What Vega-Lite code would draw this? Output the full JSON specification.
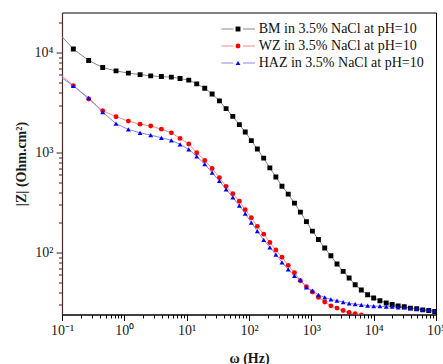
{
  "$schema": "https://vega.github.io/schema/vega-lite/v6.json",
  "width": 374,
  "height": 302,
  "autosize": {"type": "none"},
  "padding": {"left": 62, "top": 12.5, "right": 7, "bottom": 49.5},
  "background": "white",
  "config": {
    "view": {"stroke": "black", "strokeWidth": 1},
    "font": "Liberation Serif"
  },
  "datasets": {
    "eis": [
      {"s":"BM","f":0.1,"z":14500},{"s":"BM","f":0.152,"z":10900},{"s":"BM","f":0.268,"z":8380},{"s":"BM","f":0.45,"z":7110},{"s":"BM","f":0.736,"z":6590},
      {"s":"BM","f":1.16,"z":6250},{"s":"BM","f":1.79,"z":6050},{"s":"BM","f":2.65,"z":5870},{"s":"BM","f":3.93,"z":5780},{"s":"BM","f":5.68,"z":5700},
      {"s":"BM","f":7.83,"z":5520},{"s":"BM","f":10.8,"z":5320},{"s":"BM","f":14.5,"z":4880},{"s":"BM","f":19.5,"z":4420},{"s":"BM","f":25.6,"z":3870},
      {"s":"BM","f":33.5,"z":3300},{"s":"BM","f":42.9,"z":2760},{"s":"BM","f":55,"z":2310},{"s":"BM","f":70,"z":1910},{"s":"BM","f":87,"z":1610},
      {"s":"BM","f":109,"z":1320},{"s":"BM","f":136,"z":1090},{"s":"BM","f":172,"z":881},{"s":"BM","f":216,"z":704},{"s":"BM","f":270,"z":571},
      {"s":"BM","f":338,"z":461},{"s":"BM","f":426,"z":385},{"s":"BM","f":536,"z":313},{"s":"BM","f":667,"z":254},{"s":"BM","f":834,"z":204},
      {"s":"BM","f":1040,"z":164},{"s":"BM","f":1300,"z":135},{"s":"BM","f":1640,"z":111},{"s":"BM","f":2060,"z":92.8},{"s":"BM","f":2580,"z":76.9},
      {"s":"BM","f":3240,"z":64.9},{"s":"BM","f":4040,"z":55.7},{"s":"BM","f":5050,"z":47.7},{"s":"BM","f":6330,"z":42.2},{"s":"BM","f":8000,"z":37.8},
      {"s":"BM","f":10000,"z":35.1},{"s":"BM","f":12600,"z":33},{"s":"BM","f":15900,"z":31.3},{"s":"BM","f":19800,"z":30.2},{"s":"BM","f":24700,"z":29.3},
      {"s":"BM","f":31000,"z":28.7},{"s":"BM","f":38800,"z":27.8},{"s":"BM","f":49000,"z":27.4},{"s":"BM","f":61200,"z":26.7},{"s":"BM","f":76500,"z":26.3},
      {"s":"BM","f":95500,"z":25.7},

      {"s":"WZ","f":0.1,"z":5880},{"s":"WZ","f":0.152,"z":4690},{"s":"WZ","f":0.268,"z":3450},{"s":"WZ","f":0.45,"z":2630},{"s":"WZ","f":0.736,"z":2290},
      {"s":"WZ","f":1.16,"z":2070},{"s":"WZ","f":1.79,"z":1930},{"s":"WZ","f":2.65,"z":1850},{"s":"WZ","f":3.93,"z":1720},{"s":"WZ","f":5.68,"z":1580},
      {"s":"WZ","f":7.83,"z":1390},{"s":"WZ","f":10.8,"z":1220},{"s":"WZ","f":14.5,"z":1000},{"s":"WZ","f":19.5,"z":836},{"s":"WZ","f":25.6,"z":694},
      {"s":"WZ","f":33.5,"z":563},{"s":"WZ","f":42.9,"z":460},{"s":"WZ","f":55,"z":389},{"s":"WZ","f":70,"z":326},{"s":"WZ","f":87,"z":269},
      {"s":"WZ","f":109,"z":223},{"s":"WZ","f":136,"z":183},{"s":"WZ","f":172,"z":153},{"s":"WZ","f":216,"z":126},{"s":"WZ","f":270,"z":106},
      {"s":"WZ","f":338,"z":89.8},{"s":"WZ","f":426,"z":74.5},{"s":"WZ","f":536,"z":62.9},{"s":"WZ","f":667,"z":52.3},{"s":"WZ","f":834,"z":45.5},
      {"s":"WZ","f":1040,"z":40.3},{"s":"WZ","f":1300,"z":35.6},{"s":"WZ","f":1640,"z":32},{"s":"WZ","f":2060,"z":29.3},{"s":"WZ","f":2580,"z":27.8},
      {"s":"WZ","f":3240,"z":26.3},{"s":"WZ","f":4040,"z":25.1},{"s":"WZ","f":5050,"z":24.4},{"s":"WZ","f":6330,"z":23.7},{"s":"WZ","f":8000,"z":22.8},
      {"s":"WZ","f":10000,"z":22.0},

      {"s":"HAZ","f":0.1,"z":5610},{"s":"HAZ","f":0.152,"z":4660},{"s":"HAZ","f":0.268,"z":3530},{"s":"HAZ","f":0.45,"z":2540},{"s":"HAZ","f":0.736,"z":1950},
      {"s":"HAZ","f":1.16,"z":1710},{"s":"HAZ","f":1.79,"z":1580},{"s":"HAZ","f":2.65,"z":1500},{"s":"HAZ","f":3.93,"z":1410},{"s":"HAZ","f":5.68,"z":1330},
      {"s":"HAZ","f":7.83,"z":1210},{"s":"HAZ","f":10.8,"z":1080},{"s":"HAZ","f":14.5,"z":916},{"s":"HAZ","f":19.5,"z":766},{"s":"HAZ","f":25.6,"z":630},
      {"s":"HAZ","f":33.5,"z":521},{"s":"HAZ","f":42.9,"z":430},{"s":"HAZ","f":55,"z":357},{"s":"HAZ","f":70,"z":295},{"s":"HAZ","f":87,"z":245},
      {"s":"HAZ","f":109,"z":200},{"s":"HAZ","f":136,"z":164},{"s":"HAZ","f":172,"z":134},{"s":"HAZ","f":216,"z":113},{"s":"HAZ","f":270,"z":95.5},
      {"s":"HAZ","f":338,"z":79.9},{"s":"HAZ","f":426,"z":67.9},{"s":"HAZ","f":536,"z":58.3},{"s":"HAZ","f":667,"z":53.2},{"s":"HAZ","f":834,"z":44.8},
      {"s":"HAZ","f":1040,"z":41.5},{"s":"HAZ","f":1300,"z":37.8},{"s":"HAZ","f":1640,"z":35.6},{"s":"HAZ","f":2060,"z":34},{"s":"HAZ","f":2580,"z":33},
      {"s":"HAZ","f":3240,"z":32},{"s":"HAZ","f":4040,"z":31},{"s":"HAZ","f":5050,"z":30.5},{"s":"HAZ","f":6330,"z":30},{"s":"HAZ","f":8000,"z":29.5},
      {"s":"HAZ","f":10000,"z":29.1},{"s":"HAZ","f":12600,"z":29.1},{"s":"HAZ","f":15900,"z":28.7},{"s":"HAZ","f":19800,"z":28.7},{"s":"HAZ","f":24700,"z":28.2},
      {"s":"HAZ","f":31000,"z":28.2},{"s":"HAZ","f":38800,"z":27.8},{"s":"HAZ","f":49000,"z":27.4},{"s":"HAZ","f":61200,"z":26.9},{"s":"HAZ","f":76500,"z":26.5},
      {"s":"HAZ","f":95500,"z":26.1}
    ]
  },
  "data": {"name": "eis"},
  "encoding": {
    "x": {
      "field": "f", "type": "quantitative",
      "scale": {"type": "log", "domain": [0.1, 100000], "nice": false},
      "axis": {
        "orient": "bottom",
        "values": [0.1,0.2,0.3,0.4,0.5,0.6,0.7,0.8,0.9,1,2,3,4,5,6,7,8,9,10,20,30,40,50,60,70,80,90,100,200,300,400,500,600,700,800,900,1000,2000,3000,4000,5000,6000,7000,8000,9000,10000,20000,30000,40000,50000,60000,70000,80000,90000,100000],
        "labelExpr": "abs(log(datum.value)/LN10 - round(log(datum.value)/LN10)) < 0.001 ? '10' + ['⁻¹','⁰','¹','²','³','⁴','⁵'][round(log(datum.value)/LN10)+1] : ''",
        "tickSize": {"condition": {"test": "abs(log(datum.value)/LN10 - round(log(datum.value)/LN10)) < 0.001", "value": 6}, "value": 3.5},
        "tickColor": "black", "tickWidth": 1,
        "domainColor": "black", "domainWidth": 1.2,
        "grid": false, "labelOverlap": false, "labelFlush": false,
        "labelFont": "Liberation Serif", "labelFontSize": 14, "labelColor": "#1a1a1a", "labelPadding": 3,
        "title": "ω (Hz)", "titleFont": "Liberation Serif", "titleFontSize": 14, "titleFontWeight": "bold", "titleColor": "#1a1a1a", "titlePadding": 14
      }
    },
    "y": {
      "field": "z", "type": "quantitative",
      "scale": {"type": "log", "domain": [24, 25300], "nice": false},
      "axis": {
        "orient": "left",
        "values": [30,40,50,60,70,80,90,100,200,300,400,500,600,700,800,900,1000,2000,3000,4000,5000,6000,7000,8000,9000,10000,20000],
        "labelExpr": "abs(log(datum.value)/LN10 - round(log(datum.value)/LN10)) < 0.001 ? '10' + ['⁰','¹','²','³','⁴','⁵'][round(log(datum.value)/LN10)] : ''",
        "tickSize": {"condition": {"test": "abs(log(datum.value)/LN10 - round(log(datum.value)/LN10)) < 0.001", "value": 6}, "value": 3.5},
        "tickColor": "#3a2222", "tickWidth": 1,
        "domainColor": "#4a2a2a", "domainWidth": 1.2,
        "grid": false, "labelOverlap": false, "labelFlush": false,
        "labelFont": "Liberation Serif", "labelFontSize": 14, "labelColor": "#1a1a1a", "labelPadding": 3,
        "title": "|Z| (Ohm.cm²)", "titleFont": "Liberation Serif", "titleFontSize": 14, "titleFontWeight": "bold", "titleColor": "#1a1a1a", "titlePadding": 6
      }
    }
  },
  "layer": [
    {
      "mark": {"type": "line", "strokeWidth": 1, "clip": true},
      "encoding": {
        "color": {
          "field": "s", "type": "nominal", "sort": ["BM","WZ","HAZ"],
          "scale": {"range": ["#7a8f80","#f08c8c","#8c84f0"]},
          "legend": {
            "orient": "none", "legendX": 158.5, "legendY": 9.5, "title": null, "padding": 0,
            "symbolType": "stroke", "symbolSize": 144, "symbolStrokeWidth": 1,
            "labelFont": "Liberation Serif", "labelFontSize": 14, "labelColor": "rgba(0,0,0,0)",
            "labelOffset": -40, "rowPadding": 3,
            "labelExpr": "'.'"
          }
        }
      }
    },
    {
      "transform": [{"filter": "datum.f > 0"}],
      "mark": {"type": "line", "strokeWidth": 1, "opacity": 0, "clip": true},
      "encoding": {
        "stroke": {
          "field": "s", "type": "nominal", "sort": ["BM","WZ","HAZ"],
          "scale": {"range": ["#7a8f80","#f08c8c","#8c84f0"]},
          "legend": {
            "orient": "none", "legendX": 180, "legendY": 9.5, "title": null, "padding": 0,
            "symbolType": "stroke", "symbolSize": 144, "symbolStrokeWidth": 1, "symbolOpacity": 1,
            "labelFont": "Liberation Serif", "labelFontSize": 14, "labelColor": "rgba(0,0,0,0)",
            "labelOffset": -40, "rowPadding": 3,
            "labelExpr": "'.'"
          }
        }
      }
    },
    {
      "transform": [{"filter": "datum.f > 0.11"}],
      "mark": {"type": "point", "filled": true, "opacity": 1, "clip": true},
      "encoding": {
        "fill": {
          "field": "s", "type": "nominal",
          "scale": {"domain": ["BM","WZ","HAZ"], "range": ["#000000","#ff0000","#0000ff"]},
          "legend": {
            "orient": "none", "legendX": 169, "legendY": 9.5, "title": null, "padding": 0,
            "symbolSize": 24, "symbolStrokeWidth": 0, "symbolOpacity": 1,
            "labelFont": "Liberation Serif", "labelFontSize": 14, "labelColor": "#111111",
            "labelOffset": 13.7, "labelLimit": 400, "rowPadding": 3,
            "labelExpr": "datum.label + ' in 3.5% NaCl at pH=10'"
          }
        },
        "shape": {
          "field": "s", "type": "nominal",
          "scale": {"domain": ["BM","WZ","HAZ"], "range": ["square","circle","triangle-up"]},
          "legend": {
            "orient": "none", "legendX": 169, "legendY": 9.5, "title": null, "padding": 0,
            "symbolSize": 24, "symbolStrokeWidth": 0, "symbolOpacity": 1,
            "labelFont": "Liberation Serif", "labelFontSize": 14, "labelColor": "#111111",
            "labelOffset": 13.7, "labelLimit": 400, "rowPadding": 3,
            "labelExpr": "datum.label + ' in 3.5% NaCl at pH=10'"
          }
        },
        "size": {"value": 24}
      }
    }
  ]
}
